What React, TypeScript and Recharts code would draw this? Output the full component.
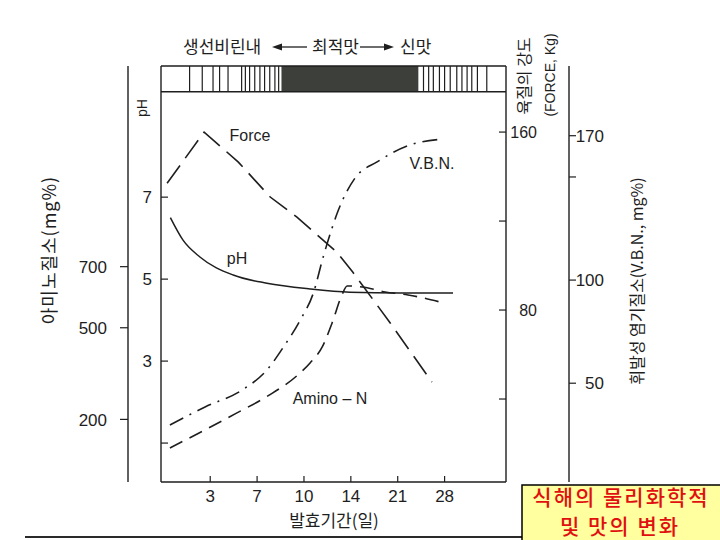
import { ComposedChart, Line, XAxis, YAxis, ReferenceLine, ReferenceArea } from 'recharts';

// x 위치: 발효기간 눈금 순번 (1 = 3일, 2 = 7일, ... 6 = 28일)
const dayTicks = [1, 2, 3, 4, 5, 6];
const dayLabels = ['3', '7', '10', '14', '21', '28'];

const phTicks = [1, 3, 5, 7];
const phLabels = ['', '3', '5', '7'];
const aminoTicks = [200, 500, 700];
const aminoLabels = ['200', '500', '700'];
const forceTicks = [40, 80, 120, 160];
const forceLabels = ['', '80', '', '160'];
const vbnTicks = [50, 100, 150, 170];
const vbnLabels = ['50', '100', '', '170'];

// 육질의 강도 (Force, Kg)
const forceX = [0.08, 0.87, 1.6, 2.28, 2.85, 3.45, 3.7, 4.04, 4.84, 5.73];
const forceY = [137, 160, 146.5, 130.8, 121.8, 110.6, 106.1, 97.1, 74.2, 47.6];

// pH
const phX = [0.15, 0.42, 0.78, 1.49, 2.21, 3.13, 3.98, 5.05, 6.18];
const phY = [6.5, 5.95, 5.54, 5.1, 4.9, 4.76, 4.68, 4.66, 4.66];

// 휘발성 염기질소 (V.B.N., mg%)
const vbnX = [0.14, 0.89, 1.68, 2.21, 2.55, 2.92, 3.2, 3.41, 3.6, 3.71, 4.09, 4.56, 5.26, 5.97];
const vbnY = [29.7, 38.5, 46.7, 56.4, 67.1, 80.6, 93.7, 111.2, 125.3, 132.5, 149.5, 157.3, 165.5, 168.4];

// 아미노질소 (mg%)
const aminoX = [0.14, 0.89, 1.57, 2.23, 2.87, 3.13, 3.39, 3.6, 3.81, 3.92, 4.24, 4.73, 5.22, 5.9];
const aminoY = [106.6, 165.6, 221.2, 276.8, 345.6, 384.9, 437.2, 515.8, 607.5, 636.9, 633.6, 617.3, 607.5, 584.5];

// 맛 평가 띠 (생선비린내 → 최적맛 → 신맛)
const tasteStripes = [
  0.56, 0.83, 1.06, 1.2, 1.38, 1.67, 1.75, 1.84, 1.95, 2.06, 2.16, 2.27, 2.38, 2.46,
  5.55, 5.66, 5.76, 5.89, 6.0, 6.12, 6.26, 6.37, 6.48, 6.58, 6.7, 6.9,
];
const optimumRange = [2.52, 5.44];

const toPoints = (xs: number[], ys: number[]) => xs.map((x, i) => ({ x, v: ys[i] }));
const forceData = toPoints(forceX, forceY);
const phData = toPoints(phX, phY);
const vbnData = toPoints(vbnX, vbnY);
const aminoData = toPoints(aminoX, aminoY);

const INK = '#1e1e1e';
const NUM_FONT = '"Liberation Sans", Arial, sans-serif';
const KR_FONT = '"Noto Sans CJK KR", "Noto Sans", sans-serif';

const BAND_LOW = 9.57;
const BAND_TOP = 10.2;

// 축 id: 같은 쪽에서는 이름 순서상 앞선 축이 그림에 더 가깝게 놓인다
const PH = 'a_ph';
const AMINO = 'b_amino';
const FORCE = 'a_force';
const VBN = 'b_vbn';

const XTick = (p: any) => {
  const label = dayLabels[dayTicks.indexOf(p.payload.value)];
  return (
    <g>
      <line x1={p.x} x2={p.x} y1={p.y - 6} y2={p.y} stroke={INK} strokeWidth={1.2} />
      <text x={p.x} y={p.y + 14} dy="0.36em" textAnchor="middle" fontSize={17} fontFamily={NUM_FONT} fill={INK}>
        {label}
      </text>
    </g>
  );
};

const PhTick = (p: any) => {
  const label = phLabels[phTicks.indexOf(p.payload.value)];
  return (
    <g>
      <line x1={p.x} x2={p.x + 7} y1={p.y} y2={p.y} stroke={INK} strokeWidth={1.2} />
      {label && (
        <text x={p.x - 9} y={p.y} dy="0.36em" textAnchor="end" fontSize={17} fontFamily={NUM_FONT} fill={INK}>
          {label}
        </text>
      )}
    </g>
  );
};

const AminoTick = (p: any) => {
  const label = aminoLabels[aminoTicks.indexOf(p.payload.value)];
  return (
    <g>
      <line x1={p.x - 8} x2={p.x} y1={p.y} y2={p.y} stroke={INK} strokeWidth={1.2} />
      <text x={p.x - 21} y={p.y} dy="0.36em" textAnchor="end" fontSize={17} fontFamily={NUM_FONT} fill={INK}>
        {label}
      </text>
    </g>
  );
};

const ForceTick = (p: any) => {
  const label = forceLabels[forceTicks.indexOf(p.payload.value)];
  return (
    <g>
      <line x1={p.x - 7} x2={p.x} y1={p.y} y2={p.y} stroke={INK} strokeWidth={1.2} />
      {label && (
        <text x={p.x + 31} y={p.y} dy="0.36em" textAnchor="end" fontSize={16} fontFamily={NUM_FONT} fill={INK}>
          {label}
        </text>
      )}
    </g>
  );
};

const VbnTick = (p: any) => {
  const label = vbnLabels[vbnTicks.indexOf(p.payload.value)];
  return (
    <g>
      <line x1={p.x} x2={p.x + 7} y1={p.y} y2={p.y} stroke={INK} strokeWidth={1.2} />
      {label && (
        <text x={p.x + 35} y={p.y} dy="0.36em" textAnchor="end" fontSize={17} fontFamily={NUM_FONT} fill={INK}>
          {label}
        </text>
      )}
    </g>
  );
};

const axisLine = { stroke: INK, strokeWidth: 1.4 };

export default function App() {
  return (
    <div style={{ position: 'absolute', left: 0, top: 0, width: 720, height: 540, background: '#fff', overflow: 'hidden' }}>
      <ComposedChart width={720} height={540} margin={{ top: 66, right: 71, bottom: 28, left: 48 }}>
        <XAxis
          type="number"
          dataKey="x"
          domain={[-0.05, 7.31]}
          ticks={dayTicks}
          interval={0}
          allowDataOverflow
          height={30}
          tickSize={0}
          tickMargin={0}
          tickLine={false}
          axisLine={axisLine}
          tick={XTick}
        />
        <YAxis
          yAxisId={PH}
          orientation="left"
          width={33}
          domain={[0.05, BAND_TOP]}
          ticks={phTicks}
          interval={0}
          allowDataOverflow
          tickSize={0}
          tickMargin={0}
          tickLine={false}
          axisLine={axisLine}
          tick={PhTick}
        />
        <YAxis
          yAxisId={AMINO}
          orientation="left"
          width={80}
          domain={[-5, 1357]}
          ticks={aminoTicks}
          interval={0}
          allowDataOverflow
          tickSize={0}
          tickMargin={0}
          tickLine={false}
          axisLine={axisLine}
          tick={AminoTick}
        />
        <YAxis
          yAxisId={FORCE}
          orientation="right"
          width={63}
          domain={[2.7, 189.7]}
          ticks={forceTicks}
          interval={0}
          allowDataOverflow
          tickSize={0}
          tickMargin={0}
          tickLine={false}
          axisLine={axisLine}
          tick={ForceTick}
        />
        <YAxis
          yAxisId={VBN}
          orientation="right"
          width={80}
          domain={[2.1, 203.8]}
          ticks={vbnTicks}
          interval={0}
          allowDataOverflow
          tickSize={0}
          tickMargin={0}
          tickLine={false}
          axisLine={axisLine}
          tick={VbnTick}
        />

        {/* 맛 평가 띠 */}
        <ReferenceArea
          yAxisId={PH}
          x1={optimumRange[0]}
          x2={optimumRange[1]}
          y1={BAND_LOW}
          y2={BAND_TOP}
          fill="#3d3f3a"
          fillOpacity={1}
          stroke="none"
        />
        {tasteStripes.map((s) => (
          <ReferenceLine
            key={s}
            yAxisId={PH}
            segment={[{ x: s, y: BAND_LOW }, { x: s, y: BAND_TOP }]}
            stroke={INK}
            strokeWidth={1.2}
          />
        ))}
        <ReferenceLine yAxisId={PH} y={BAND_TOP} stroke={INK} strokeWidth={1.4} />
        <ReferenceLine yAxisId={PH} y={BAND_LOW} stroke={INK} strokeWidth={1.4} />

        <Line
          data={forceData}
          dataKey="v"
          yAxisId={FORCE}
          type="linear"
          stroke={INK}
          strokeWidth={1.6}
          strokeDasharray="22 9"
          dot={false}
          activeDot={false}
          isAnimationActive={false}
        />
        <Line
          data={phData}
          dataKey="v"
          yAxisId={PH}
          type="monotone"
          stroke={INK}
          strokeWidth={1.5}
          dot={false}
          activeDot={false}
          isAnimationActive={false}
        />
        <Line
          data={vbnData}
          dataKey="v"
          yAxisId={VBN}
          type="monotone"
          stroke={INK}
          strokeWidth={1.6}
          strokeDasharray="15 7 2 7"
          dot={false}
          activeDot={false}
          isAnimationActive={false}
        />
        <Line
          data={aminoData}
          dataKey="v"
          yAxisId={AMINO}
          type="monotone"
          stroke={INK}
          strokeWidth={1.6}
          strokeDasharray="14 8"
          dot={false}
          activeDot={false}
          isAnimationActive={false}
        />
      </ComposedChart>

      <svg width={720} height={540} style={{ position: 'absolute', left: 0, top: 0, pointerEvents: 'none' }}>
        {/* 맛 변화 제목 */}
        <g fontFamily={KR_FONT} fontSize={17} fill={INK}>
          <text x={183} y={47} dy="0.36em">생선비린내</text>
          <text x={312} y={47} dy="0.36em">최적맛</text>
          <text x={400} y={47} dy="0.36em">신맛</text>
        </g>
        <line x1={278} x2={307} y1={47} y2={47} stroke={INK} strokeWidth={1.3} />
        <polygon points="272,47 282,43.5 282,50.5" fill={INK} />
        <line x1={360} x2={388} y1={47} y2={47} stroke={INK} strokeWidth={1.3} />
        <polygon points="394,47 384,43.5 384,50.5" fill={INK} />

        {/* 축 제목 */}
        <text transform="translate(50,250) rotate(-90)" textAnchor="middle" dy="0.36em" fontSize={18} fontFamily={KR_FONT} fill={INK} letterSpacing={1}>
          아미노질소(mg%)
        </text>
        <text transform="translate(142,108) rotate(-90)" textAnchor="middle" dy="0.36em" fontSize={14} fontFamily={NUM_FONT} fill={INK}>
          pH
        </text>
        <text transform="translate(524,76) rotate(-90)" textAnchor="middle" dy="0.36em" fontSize={16} fontFamily={KR_FONT} fill={INK}>
          육질의 강도
        </text>
        <text transform="translate(550,75) rotate(-90)" textAnchor="middle" dy="0.36em" fontSize={14} fontFamily={NUM_FONT} fill={INK}>
          (FORCE, Kg)
        </text>
        <text transform="translate(637,281) rotate(-90)" textAnchor="middle" dy="0.36em" fontSize={16} fontFamily={KR_FONT} fill={INK}>
          휘발성 염기질소(V.B.N., mg%)
        </text>
        <text x={334} y={521} dy="0.36em" textAnchor="middle" fontSize={17} fontFamily={KR_FONT} fill={INK}>
          발효기간(일)
        </text>

        {/* 곡선 이름 */}
        <g fontFamily={NUM_FONT} fontSize={16} fill={INK} textAnchor="middle">
          <text x={250} y={135} dy="0.36em">Force</text>
          <text x={432} y={163} dy="0.36em">V.B.N.</text>
          <text x={237} y={258} dy="0.36em">pH</text>
          <text x={330} y={398} dy="0.36em">Amino – N</text>
        </g>

        <line x1={25} x2={720} y1={537} y2={537} stroke="#2a2a2a" strokeWidth={2} />

        {/* 설명 상자 */}
        <rect x={522} y={485} width={200} height={58} fill="#ffffa0" stroke="#000" strokeWidth={1.5} />
        <g fontFamily={KR_FONT} fontSize={21} fontWeight={500} fill="#e01010" textAnchor="middle" letterSpacing={2}>
          <text x={621} y={497} dy="0.36em">식해의 물리화학적</text>
          <text x={620} y={526} dy="0.36em">및 맛의 변화</text>
        </g>
      </svg>
    </div>
  );
}
